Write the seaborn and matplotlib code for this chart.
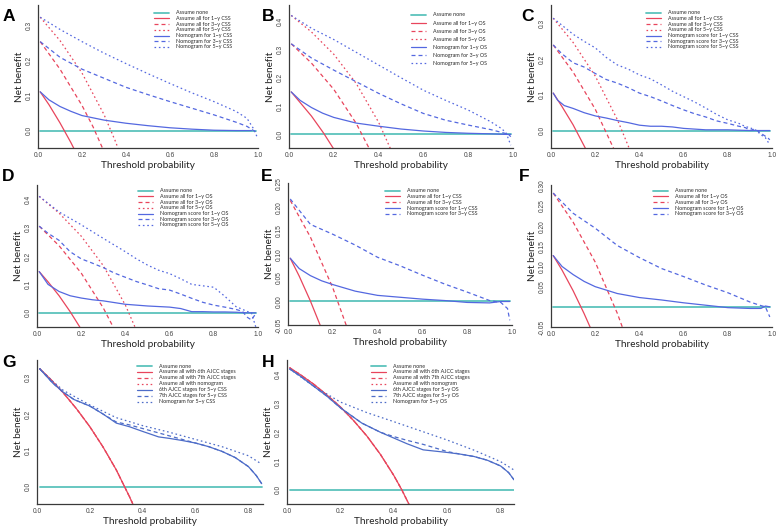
import matplotlib
matplotlib.use("Agg")
import matplotlib.pyplot as plt
import seaborn as sns
from matplotlib.lines import Line2D

sns.set_theme(style="white")
plt.rcParams['font.family'] = ['Lato', 'DejaVu Sans']
plt.rcParams['axes.unicode_minus'] = False

W, H = 778, 528
fig = plt.figure(figsize=(W / 100, H / 100), dpi=100)

TEAL = "#5CC3BC"
RED = "#E8455C"
BLUE = "#5468E0"
BLUE2 = "#4D6CC8"

# ---------------- data ----------------
none_t = [0.01, 0.99]
none_nb = [0.0, 0.0]
none_t_gh = [0.01, 0.85]

# Panel A (CSS)
A_all1_t = [0.01, 0.05, 0.10, 0.15, 0.17]
A_all1 = [0.111, 0.074, 0.022, -0.035, -0.060]
A_all3_t = [0.01, 0.10, 0.20, 0.25, 0.30]
A_all3 = [0.255, 0.176, 0.072, 0.011, -0.060]
A_all5_t = [0.01, 0.10, 0.20, 0.30, 0.35, 0.38]
A_all5 = [0.325, 0.258, 0.165, 0.046, -0.028, -0.077]
A_n1_t = [0.01, 0.05, 0.10, 0.15, 0.20, 0.30, 0.40, 0.50, 0.60, 0.70, 0.80, 0.90, 0.97]
A_n1 = [0.111, 0.088, 0.069, 0.055, 0.043, 0.030, 0.021, 0.014, 0.008, 0.004, 0.001, 0.000, 0.000]
A_n3_t = [0.01, 0.10, 0.20, 0.30, 0.40, 0.50, 0.60, 0.70, 0.80, 0.90, 0.95, 0.98, 0.99]
A_n3 = [0.255, 0.210, 0.176, 0.150, 0.124, 0.103, 0.083, 0.064, 0.045, 0.024, 0.012, 0.000, -0.003]
A_n5_t = [0.01, 0.10, 0.20, 0.30, 0.40, 0.50, 0.60, 0.70, 0.80, 0.90, 0.95, 0.98, 0.995]
A_n5 = [0.325, 0.290, 0.255, 0.222, 0.192, 0.163, 0.135, 0.108, 0.083, 0.055, 0.035, 0.005, -0.017]

# Panel B (OS)
B_all1_t = [0.01, 0.10, 0.155, 0.20]
B_all1 = [0.150, 0.065, 0.004, -0.052]
B_all3_t = [0.01, 0.10, 0.20, 0.30, 0.37]
B_all3 = [0.320, 0.252, 0.159, 0.039, -0.068]
B_all5_t = [0.01, 0.10, 0.20, 0.30, 0.40, 0.46]
B_all5 = [0.420, 0.362, 0.283, 0.180, 0.043, -0.063]
B_n1_t = [0.01, 0.05, 0.10, 0.15, 0.20, 0.30, 0.40, 0.50, 0.60, 0.70, 0.80, 0.90, 0.97, 0.99]
B_n1 = [0.150, 0.120, 0.095, 0.075, 0.060, 0.040, 0.029, 0.019, 0.012, 0.007, 0.004, 0.002, 0.000, 0.000]
B_n3_t = [0.01, 0.10, 0.20, 0.30, 0.40, 0.50, 0.60, 0.70, 0.80, 0.90, 0.95, 0.98, 0.99]
B_n3 = [0.320, 0.270, 0.227, 0.186, 0.145, 0.108, 0.074, 0.050, 0.033, 0.017, 0.007, 0.000, -0.008]
B_n5_t = [0.01, 0.10, 0.20, 0.30, 0.40, 0.50, 0.60, 0.70, 0.80, 0.90, 0.95, 0.97, 0.99]
B_n5 = [0.420, 0.375, 0.335, 0.290, 0.245, 0.200, 0.156, 0.120, 0.086, 0.045, 0.020, 0.004, -0.038]

# Panel C (CSS)
C_all1_t = [0.01, 0.05, 0.10, 0.16]
C_all1 = [0.105, 0.067, 0.016, -0.055]
C_all3_t = [0.01, 0.10, 0.20, 0.29]
C_all3 = [0.240, 0.164, 0.060, -0.059]
C_all5_t = [0.01, 0.10, 0.20, 0.30, 0.36]
C_all5 = [0.315, 0.247, 0.153, 0.031, -0.059]
C_n1_t = [0.01, 0.03, 0.06, 0.10, 0.15, 0.20, 0.25, 0.30, 0.35, 0.40, 0.45, 0.50, 0.55, 0.60, 0.65, 0.70, 0.80, 0.90, 0.95, 0.99]
C_n1 = [0.105, 0.085, 0.070, 0.062, 0.050, 0.041, 0.035, 0.028, 0.022, 0.015, 0.012, 0.012, 0.010, 0.006, 0.004, 0.002, 0.002, 0.000, 0.000, 0.000]
C_n3_t = [0.01, 0.05, 0.10, 0.15, 0.20, 0.25, 0.30, 0.35, 0.40, 0.45, 0.50, 0.55, 0.60, 0.65, 0.70, 0.75, 0.80, 0.85, 0.88, 0.90, 0.92, 0.94, 0.96, 0.98, 0.99]
C_n3 = [0.240, 0.215, 0.190, 0.178, 0.160, 0.143, 0.133, 0.120, 0.105, 0.095, 0.083, 0.070, 0.058, 0.047, 0.038, 0.027, 0.020, 0.012, 0.008, 0.000, 0.004, -0.003, -0.012, -0.020, -0.026]
C_n5_t = [0.01, 0.05, 0.10, 0.15, 0.20, 0.25, 0.30, 0.35, 0.40, 0.45, 0.50, 0.55, 0.60, 0.65, 0.70, 0.75, 0.80, 0.85, 0.88, 0.90, 0.93, 0.95, 0.97, 0.99]
C_n5 = [0.315, 0.295, 0.270, 0.250, 0.232, 0.205, 0.184, 0.172, 0.156, 0.145, 0.128, 0.110, 0.095, 0.080, 0.063, 0.045, 0.030, 0.020, 0.011, 0.008, 0.000, -0.012, -0.020, -0.040]

# Panel D (OS)
D_all1_t = [0.01, 0.05, 0.10, 0.15, 0.20]
D_all1 = [0.145, 0.109, 0.060, 0.004, -0.058]
D_all3_t = [0.01, 0.10, 0.20, 0.30, 0.35]
D_all3 = [0.305, 0.236, 0.140, 0.017, -0.058]
D_all5_t = [0.01, 0.10, 0.20, 0.30, 0.40, 0.45]
D_all5 = [0.410, 0.351, 0.270, 0.166, 0.027, -0.062]
D_n1_t = [0.01, 0.05, 0.10, 0.15, 0.20, 0.25, 0.30, 0.35, 0.40, 0.45, 0.50, 0.55, 0.60, 0.65, 0.70, 0.75, 0.80, 0.85, 0.90, 0.95, 0.99]
D_n1 = [0.145, 0.100, 0.075, 0.060, 0.052, 0.046, 0.042, 0.036, 0.030, 0.027, 0.024, 0.022, 0.020, 0.015, 0.004, 0.004, 0.003, 0.003, 0.002, 0.000, 0.000]
D_n3_t = [0.01, 0.05, 0.10, 0.15, 0.20, 0.25, 0.30, 0.35, 0.40, 0.45, 0.50, 0.55, 0.60, 0.65, 0.70, 0.75, 0.80, 0.85, 0.90, 0.93, 0.95, 0.97, 0.99]
D_n3 = [0.305, 0.280, 0.255, 0.215, 0.190, 0.175, 0.159, 0.140, 0.125, 0.110, 0.098, 0.085, 0.080, 0.066, 0.051, 0.037, 0.027, 0.020, 0.012, 0.005, -0.015, -0.025, -0.003]
D_n5_t = [0.01, 0.10, 0.20, 0.30, 0.40, 0.45, 0.50, 0.55, 0.60, 0.65, 0.70, 0.75, 0.80, 0.85, 0.90, 0.93, 0.95, 0.97, 0.99]
D_n5 = [0.410, 0.355, 0.310, 0.262, 0.215, 0.190, 0.168, 0.150, 0.138, 0.120, 0.100, 0.095, 0.090, 0.058, 0.022, 0.012, 0.005, 0.000, -0.050]

# Panel E (CSS)
E_all1_t = [0.01, 0.05, 0.10, 0.15]
E_all1 = [0.092, 0.054, 0.001, -0.058]
E_all3_t = [0.01, 0.10, 0.20, 0.27]
E_all3 = [0.215, 0.137, 0.029, -0.064]
E_n1_t = [0.01, 0.05, 0.10, 0.15, 0.20, 0.30, 0.40, 0.50, 0.60, 0.70, 0.80, 0.90, 0.95, 0.99]
E_n1 = [0.092, 0.070, 0.055, 0.044, 0.036, 0.022, 0.013, 0.009, 0.005, 0.002, -0.002, -0.003, 0.000, 0.000]
E_n3_t = [0.01, 0.10, 0.20, 0.30, 0.40, 0.50, 0.60, 0.70, 0.80, 0.90, 0.95, 0.98, 0.99]
E_n3 = [0.218, 0.164, 0.143, 0.120, 0.094, 0.076, 0.056, 0.037, 0.020, 0.002, -0.002, -0.015, -0.040]

# Panel F (OS)
F_all1_t = [0.01, 0.05, 0.10, 0.15, 0.18]
F_all1 = [0.127, 0.091, 0.040, -0.017, -0.054]
F_all3_t = [0.01, 0.10, 0.20, 0.30, 0.33]
F_all3 = [0.282, 0.210, 0.111, -0.016, -0.061]
F_n1_t = [0.01, 0.05, 0.10, 0.15, 0.20, 0.30, 0.40, 0.50, 0.60, 0.70, 0.80, 0.90, 0.95, 0.97, 0.99]
F_n1 = [0.127, 0.100, 0.080, 0.063, 0.050, 0.033, 0.023, 0.017, 0.010, 0.004, -0.002, -0.004, -0.004, 0.002, 0.000]
F_n3_t = [0.01, 0.10, 0.20, 0.30, 0.40, 0.50, 0.60, 0.70, 0.80, 0.90, 0.95, 0.97, 0.99]
F_n3 = [0.282, 0.232, 0.195, 0.152, 0.122, 0.095, 0.075, 0.054, 0.035, 0.012, 0.003, 0.000, -0.025]

# Panel G (5-y CSS, AJCC comparison)
G_all_t = [0.01, 0.05, 0.10, 0.15, 0.20, 0.25, 0.30, 0.35, 0.37]
G_all = [0.325, 0.297, 0.258, 0.214, 0.165, 0.109, 0.046, -0.028, -0.060]
G_aj6_t = [0.01, 0.06, 0.10, 0.14, 0.20, 0.25, 0.30, 0.35, 0.40, 0.46, 0.50, 0.55, 0.60, 0.65, 0.70, 0.75, 0.80, 0.83, 0.85]
G_aj6 = [0.325, 0.285, 0.260, 0.240, 0.222, 0.200, 0.175, 0.165, 0.152, 0.137, 0.133, 0.127, 0.120, 0.110, 0.097, 0.080, 0.055, 0.030, 0.008]
G_aj7_t = [0.01, 0.06, 0.10, 0.14, 0.20, 0.25, 0.30, 0.35, 0.40, 0.46, 0.50, 0.55, 0.60, 0.65, 0.70, 0.75, 0.80, 0.83, 0.85]
G_aj7 = [0.325, 0.285, 0.260, 0.240, 0.222, 0.200, 0.178, 0.170, 0.160, 0.148, 0.140, 0.130, 0.120, 0.110, 0.097, 0.080, 0.055, 0.030, 0.008]
G_nom_t = [0.01, 0.06, 0.10, 0.15, 0.20, 0.30, 0.40, 0.50, 0.60, 0.70, 0.80, 0.85]
G_nom = [0.325, 0.290, 0.265, 0.245, 0.225, 0.190, 0.168, 0.150, 0.130, 0.110, 0.085, 0.062]

# Panel H (5-y OS, AJCC comparison)
H_all_t = [0.01, 0.05, 0.10, 0.15, 0.20, 0.25, 0.30, 0.35, 0.40, 0.43, 0.46]
H_all = [0.424, 0.400, 0.367, 0.329, 0.288, 0.240, 0.186, 0.123, 0.050, 0.000, -0.056]
H_aj6_t = [0.01, 0.05, 0.10, 0.15, 0.20, 0.28, 0.35, 0.40, 0.45, 0.51, 0.55, 0.60, 0.65, 0.70, 0.75, 0.80, 0.83, 0.85]
H_aj6 = [0.420, 0.395, 0.360, 0.325, 0.285, 0.232, 0.200, 0.180, 0.160, 0.139, 0.135, 0.130, 0.124, 0.116, 0.103, 0.083, 0.060, 0.035]
H_aj7_t = [0.01, 0.05, 0.10, 0.15, 0.20, 0.28, 0.35, 0.40, 0.45, 0.51, 0.55, 0.60, 0.65, 0.70, 0.75, 0.80, 0.83, 0.85]
H_aj7 = [0.420, 0.395, 0.360, 0.325, 0.285, 0.232, 0.200, 0.185, 0.172, 0.158, 0.147, 0.133, 0.124, 0.116, 0.103, 0.083, 0.060, 0.035]
H_nom_t = [0.01, 0.10, 0.20, 0.30, 0.39, 0.50, 0.60, 0.70, 0.80, 0.85]
H_nom = [0.420, 0.360, 0.305, 0.268, 0.240, 0.205, 0.173, 0.138, 0.098, 0.069]

labels_A = ["Assume none", "Assume all for 1\u2212y CSS", "Assume all for 3\u2212y CSS", "Assume all for 5\u2212y CSS",
            "Nomogram for 1\u2212y CSS", "Nomogram for 3\u2212y CSS", "Nomogram for 5\u2212y CSS"]
labels_B = ["Assume none", "Assume all for 1\u2212y OS", "Assume all for 3\u2212y OS", "Assume all for 5\u2212y OS",
            "Nomogram for 1\u2212y OS", "Nomogram for 3\u2212y OS", "Nomogram for 5\u2212y OS"]
labels_C = ["Assume none", "Assume all for 1\u2212y CSS", "Assume all for 3\u2212y CSS", "Assume all for 5\u2212y CSS",
            "Nomogram score for 1\u2212y CSS", "Nomogram score for 3\u2212y CSS", "Nomogram score for 5\u2212y CSS"]
labels_D = ["Assume none", "Assume all for 1\u2212y OS", "Assume all for 3\u2212y OS", "Assume all for 5\u2212y OS",
            "Nomogram score for 1\u2212y OS", "Nomogram score for 3\u2212y OS", "Nomogram score for 5\u2212y OS"]
labels_E = ["Assume none", "Assume all for 1\u2212y CSS", "Assume all for 3\u2212y CSS",
            "Nomogram score for 1\u2212y CSS", "Nomogram score for 3\u2212y CSS"]
labels_F = ["Assume none", "Assume all for 1\u2212y OS", "Assume all for 3\u2212y OS",
            "Nomogram score for 1\u2212y OS", "Nomogram score for 3\u2212y OS"]
labels_G = ["Assume none", "Assume all with 6th AJCC stages", "Assume all with 7th AJCC stages", "Assume all with nomogram",
            "6th AJCC stages for 5\u2212y CSS", "7th AJCC stages for 5\u2212y CSS", "Nomogram for 5\u2212y CSS"]
labels_H = ["Assume none", "Assume all with 6th AJCC stages", "Assume all with 7th AJCC stages", "Assume all with nomogram",
            "6th AJCC stages for 5\u2212y OS", "7th AJCC stages for 5\u2212y OS", "Nomogram for 5\u2212y OS"]

x_ticks_full = [0.0, 0.2, 0.4, 0.6, 0.8, 1.0]
x_ticks_short = [0.0, 0.2, 0.4, 0.6, 0.8]
y_ticks_03 = [0.0, 0.1, 0.2, 0.3]
y_ticks_04 = [0.0, 0.1, 0.2, 0.3, 0.4]
y_ticks_E = [-0.05, 0.0, 0.05, 0.10, 0.15, 0.20, 0.25]
y_ticks_F = [-0.05, 0.0, 0.05, 0.10, 0.15, 0.20, 0.25, 0.30]

# ---------------- styling ----------------
SOLID = "-"
DASH = (0, (3.2, 2.4))
DOT = (0, (1.3, 2.2))
LW = 0.9
TICKFONT = ["Liberation Sans", "DejaVu Sans"]


def px_ax(x0, x1, y0, y1):
    return fig.add_axes([x0 / W, 1 - y1 / H, (x1 - x0) / W, (y1 - y0) / H])


def style_axes(ax, xlim, ylim, xticks, yticks, ylabels=None, xfmt="{:.1f}"):
    ax.set_xlim(*xlim)
    ax.set_ylim(*ylim)
    ax.set_xticks(xticks)
    ax.set_xticklabels([xfmt.format(v) for v in xticks], family=TICKFONT)
    ax.set_yticks(yticks)
    if ylabels is None:
        ylabels = ["{:.1f}".format(v) for v in yticks]
    ax.set_yticklabels(ylabels, rotation=90, va="center", family=TICKFONT)
    for s in ["top", "right"]:
        ax.spines[s].set_visible(False)
    for s in ["left", "bottom"]:
        ax.spines[s].set_color("#3a3a3a")
        ax.spines[s].set_linewidth(0.9)
    ax.tick_params(axis="both", which="major", length=1.5, width=0.6, colors="#3a3a3a",
                   labelsize=4.8, labelcolor="#444444")
    ax.tick_params(axis="x", pad=1.5)
    ax.tick_params(axis="y", pad=2.2)
    ax.set_xlabel("Threshold probability", fontsize=7.2, labelpad=1.2, color="#222222")
    ax.set_ylabel("Net benefit", fontsize=7.2, labelpad=1.2, color="#222222")
    ax.set_facecolor("white")


def curve(ax, t, nb, color, ls, lw=LW):
    sns.lineplot(x=t, y=nb, ax=ax, color=color, linestyle=ls, linewidth=lw,
                 estimator=None, sort=False, legend=False)


def legend(entries, text_x, y0, dy):
    for i, (lab, color, ls, lw) in enumerate(entries):
        y = y0 + i * dy
        ln = Line2D([(text_x - 22) / W, (text_x - 7) / W], [1 - y / H, 1 - y / H],
                    color=color, linestyle=ls, linewidth=lw, transform=fig.transFigure)
        fig.add_artist(ln)
        fig.text(text_x / W, 1 - y / H, lab, fontsize=3.9, color="#2a2a2a",
                 va="center", ha="left")


def panel_letter(ch, x, y):
    fig.text(x / W, 1 - y / H, ch, fontsize=12.5, fontweight="bold",
             family=["Liberation Sans", "DejaVu Sans"], va="baseline", ha="left", color="black")


def three_panel(ax, d, labels, blue):
    (all1t, all1, all3t, all3, all5t, all5, n1t, n1, n3t, n3, n5t, n5) = d
    curve(ax, none_t, none_nb, TEAL, SOLID, 1.3)
    curve(ax, all1t, all1, RED, SOLID)
    curve(ax, all3t, all3, RED, DASH)
    curve(ax, all5t, all5, RED, DOT)
    curve(ax, n1t, n1, blue, SOLID)
    curve(ax, n3t, n3, blue, DASH)
    curve(ax, n5t, n5, blue, DOT)
    styles = [(TEAL, SOLID, 1.3), (RED, SOLID, LW), (RED, DASH, LW), (RED, DOT, LW),
              (blue, SOLID, LW), (blue, DASH, LW), (blue, DOT, LW)]
    return [(l, c, s, w) for l, (c, s, w) in zip(labels, styles)]


def two_panel(ax, d, labels, blue):
    (all1t, all1, all3t, all3, n1t, n1, n3t, n3) = d
    curve(ax, none_t, none_nb, TEAL, SOLID, 1.3)
    curve(ax, all1t, all1, RED, SOLID)
    curve(ax, all3t, all3, RED, DASH)
    curve(ax, n1t, n1, blue, SOLID)
    curve(ax, n3t, n3, blue, DASH)
    styles = [(TEAL, SOLID, 1.3), (RED, SOLID, LW), (RED, DASH, LW), (blue, SOLID, LW), (blue, DASH, LW)]
    return [(l, c, s, w) for l, (c, s, w) in zip(labels, styles)]


def ajcc_panel(ax, allt, allv, a6t, a6, a7t, a7, nt, nv, labels):
    curve(ax, none_t_gh, none_nb, TEAL, SOLID, 1.3)
    curve(ax, allt, allv, RED, SOLID)
    curve(ax, allt, allv, RED, DASH)
    curve(ax, allt, allv, RED, DOT)
    curve(ax, a6t, a6, BLUE2, SOLID)
    curve(ax, a7t, a7, BLUE2, DASH)
    curve(ax, nt, nv, BLUE2, DOT)
    styles = [(TEAL, SOLID, 1.3), (RED, SOLID, LW), (RED, DASH, LW), (RED, DOT, LW),
              (BLUE2, SOLID, LW), (BLUE2, DASH, LW), (BLUE2, DOT, LW)]
    return [(l, c, s, w) for l, (c, s, w) in zip(labels, styles)]


# ---------------- Row 1 ----------------
axA = px_ax(38, 258, 5, 148)
entA = three_panel(axA, (A_all1_t, A_all1, A_all3_t, A_all3, A_all5_t, A_all5,
                         A_n1_t, A_n1, A_n3_t, A_n3, A_n5_t, A_n5), labels_A, BLUE)
style_axes(axA, (0, 1), (-0.05, 0.36), x_ticks_full, y_ticks_03)
legend(entA, 176, 12.7, 5.7)
panel_letter("A", 3, 21)

axB = px_ax(289, 513, 5, 148)
entB = three_panel(axB, (B_all1_t, B_all1, B_all3_t, B_all3, B_all5_t, B_all5,
                         B_n1_t, B_n1, B_n3_t, B_n3, B_n5_t, B_n5), labels_B, BLUE)
style_axes(axB, (0, 1), (-0.048, 0.457), x_ticks_full, y_ticks_04)
legend(entB, 433, 15, 8)
panel_letter("B", 262, 21)

axC = px_ax(551, 772, 5, 148)
entC = three_panel(axC, (C_all1_t, C_all1, C_all3_t, C_all3, C_all5_t, C_all5,
                         C_n1_t, C_n1, C_n3_t, C_n3, C_n5_t, C_n5), labels_C, BLUE)
style_axes(axC, (0, 1), (-0.049, 0.352), x_ticks_full, y_ticks_03)
legend(entC, 668, 12.7, 5.7)
panel_letter("C", 521, 21)

# ---------------- Row 2 ----------------
axD = px_ax(37, 258, 185, 327)
entD = three_panel(axD, (D_all1_t, D_all1, D_all3_t, D_all3, D_all5_t, D_all5,
                         D_n1_t, D_n1, D_n3_t, D_n3, D_n5_t, D_n5), labels_D, BLUE)
style_axes(axD, (0, 1), (-0.05, 0.45), x_ticks_full, y_ticks_04)
legend(entD, 160, 190.7, 5.7)
panel_letter("D", 2, 181)

axE = px_ax(288, 512, 183, 325)
entE = two_panel(axE, (E_all1_t, E_all1, E_all3_t, E_all3, E_n1_t, E_n1, E_n3_t, E_n3), labels_E, BLUE)
style_axes(axE, (0, 1), (-0.05, 0.252), x_ticks_full, y_ticks_E,
           ylabels=["{:.2f}".format(v) for v in y_ticks_E])
legend(entE, 407, 190.7, 5.8)
panel_letter("E", 261, 181)

axF = px_ax(551, 772, 185, 327)
entF = two_panel(axF, (F_all1_t, F_all1, F_all3_t, F_all3, F_n1_t, F_n1, F_n3_t, F_n3), labels_F, BLUE)
style_axes(axF, (0, 1), (-0.05, 0.302), x_ticks_full, y_ticks_F,
           ylabels=["" if v == 0 else "{:.2f}".format(v) for v in y_ticks_F])
legend(entF, 675, 190.7, 5.8)
panel_letter("F", 519, 181)

# ---------------- Row 3 ----------------
axG = px_ax(37, 263, 360, 504)
entG = ajcc_panel(axG, G_all_t, G_all, G_aj6_t, G_aj6, G_aj7_t, G_aj7, G_nom_t, G_nom, labels_G)
style_axes(axG, (0, 0.855), (-0.048, 0.349), x_ticks_short, y_ticks_03)
legend(entG, 159, 366, 6)
panel_letter("G", 2, 367)

axH = px_ax(287, 514, 360, 504)
entH = ajcc_panel(axH, H_all_t, H_all, H_aj6_t, H_aj6, H_aj7_t, H_aj7, H_nom_t, H_nom, labels_H)
style_axes(axH, (0, 0.85), (-0.049, 0.451), x_ticks_short, y_ticks_04)
legend(entH, 393, 366, 6)
panel_letter("H", 262, 367)

fig.savefig("out.png", dpi=100, facecolor="white")
